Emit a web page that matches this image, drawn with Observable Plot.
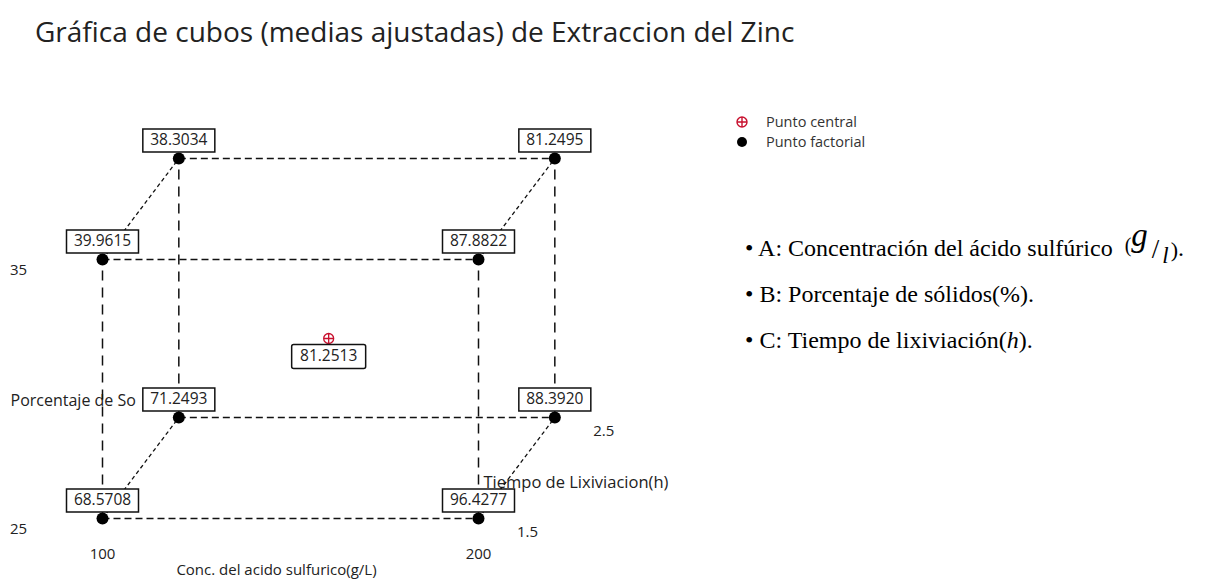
<!DOCTYPE html>
<html>
<head>
<meta charset="utf-8">
<script src="https://cdn.jsdelivr.net/npm/d3@7"></script>
<script src="https://cdn.jsdelivr.net/npm/@observablehq/plot@0.6"></script>
<style>
  html, body { margin: 0; padding: 0; background: #fff; }
  #page { position: relative; width: 1228px; height: 579px; overflow: hidden; font-family: "Open Sans", sans-serif; }
  #title { height: 60px; box-sizing: border-box; padding: 12px 0 0 35px; font-size: 28px; line-height: 38px; color: #222; white-space: nowrap; }
  .legrow { position: absolute; left: 735px; height: 19px; font-size: 14.5px; line-height: 19px; color: #333; white-space: nowrap; }
  .legrow svg { position: absolute; left: 0; top: 3px; }
  .legrow span { position: absolute; left: 31px; top: 0; }
  .note { position: absolute; left: 745px; font-family: "Liberation Serif", "Times New Roman", serif; font-size: 24px; color: #000; line-height: 28px; white-space: nowrap; }
</style>
</head>
<body>
<div id="page">
  <div id="title">Gráfica de cubos (medias ajustadas) de Extraccion del Zinc</div>
  <div id="chart"></div>
  <div id="legend"></div>
  <div class="note" style="top:231px">• A: Concentración del ácido sulfúrico <span style="font-size:20px;position:relative;top:-4px;margin-left:6px">(</span><i style="font-size:33px;position:relative;top:-10px;margin-right:4px">g</i><span style="font-size:27px;position:relative;top:2px;margin-right:3px">/</span><i style="font-size:23px;position:relative;top:7px;margin-right:2px">l</i><span style="font-size:22px;position:relative;top:1px">)</span>.</div>
  <div class="note" style="top:280px">• B: Porcentaje de sólidos(%).</div>
  <div class="note" style="top:326px">• C: Tiempo de lixiviación(<i>h</i>).</div>
</div>
<script>
// ---- data ----
const factorA = [100, 200, 100, 200, 100, 200, 100, 200];   // Conc. ácido sulfúrico (g/L)
const factorB = [25, 25, 35, 35, 25, 25, 35, 35];           // Porcentaje de sólidos
const factorC = [1.5, 1.5, 1.5, 1.5, 2.5, 2.5, 2.5, 2.5];   // Tiempo de lixiviación (h)
const fittedMeans = [68.5708, 96.4277, 39.9615, 87.8822, 71.2493, 88.3920, 38.3034, 81.2495];
const centerA = [150], centerB = [30], centerC = [2], centerMean = [81.2513];
const ticksA = [100, 200];
const ticksB = [25, 35];
const ticksC = [1.5, 2.5];
const labelA = "Conc. del acido sulfurico(g/L)";
const labelB = "Porcentaje de So";
const labelC = "Tiempo de Lixiviacion(h)";
const legendItems = ["Punto central", "Punto factorial"];

// ---- oblique projection of the third factor (C) ----
const DEPTH_A = 20.3, DEPTH_B = 3.9;
const px = (a, c) => a + (c - 1.5) * DEPTH_A;
const py = (b, c) => b + (c - 1.5) * DEPTH_B;

const corners = factorA.map((a, i) => ({a, b: factorB[i], c: factorC[i], m: fittedMeans[i],
  x: px(a, factorC[i]), y: py(factorB[i], factorC[i])}));
const center = centerA.map((a, i) => ({a, b: centerB[i], c: centerC[i], m: centerMean[i],
  x: px(a, centerC[i]), y: py(centerB[i], centerC[i])}));

const edges = [];
for (let i = 0; i < corners.length; i++) for (let j = i + 1; j < corners.length; j++) {
  const p = corners[i], q = corners[j];
  const d = (p.a !== q.a) + (p.b !== q.b) + (p.c !== q.c);
  if (d === 1) edges.push({x1: p.x, y1: p.y, x2: q.x, y2: q.y,
    dir: p.a !== q.a ? "A" : p.b !== q.b ? "B" : "C"});
}

const boxSymbol = (w, h, rr) => ({draw(ctx) {
  const x0 = -w / 2, y0 = -h / 2;
  ctx.moveTo(x0 + rr, y0); ctx.lineTo(x0 + w - rr, y0);
  if (rr) ctx.arcTo(x0 + w, y0, x0 + w, y0 + rr, rr);
  ctx.lineTo(x0 + w, y0 + h - rr);
  if (rr) ctx.arcTo(x0 + w, y0 + h, x0 + w - rr, y0 + h, rr);
  ctx.lineTo(x0 + rr, y0 + h);
  if (rr) ctx.arcTo(x0, y0 + h, x0, y0 + h - rr, rr);
  ctx.lineTo(x0, y0 + rr);
  if (rr) ctx.arcTo(x0, y0, x0 + rr, y0, rr);
  ctx.closePath();
}});
const crossCircle = {draw(ctx, size) {
  const r = Math.sqrt(size / Math.PI);
  ctx.moveTo(r, 0); ctx.arc(0, 0, r, 0, 2 * Math.PI);
  ctx.moveTo(-r, 0); ctx.lineTo(r, 0);
  ctx.moveTo(0, -r); ctx.lineTo(0, r);
}};

const fmt = d3.format(".4f");
const font = {fontFamily: "Open Sans, sans-serif", fill: "#222"};
const dashes = {A: "7,4", B: "10,7", C: "4,3"};

const edgeMarks = ["A", "B", "C"].map(dir => Plot.link(edges.filter(e => e.dir === dir), {
  x1: "x1", y1: "y1", x2: "x2", y2: "y2", stroke: "#111",
  strokeWidth: dir === "C" ? 1.3 : 1.5,
  strokeDasharray: dashes[dir]
}));

const chart = Plot.plot({
  width: 1228, height: 519,
  x: {domain: [100, 200], range: [102, 478], axis: null},
  y: {domain: [25, 35], range: [458, 199], axis: null},
  style: {background: "transparent", overflow: "visible"},
  marks: [
    Plot.text([labelB], {x: () => 100, y: () => 30, text: d => d, textAnchor: "start", dx: -92, dy: 12, fontSize: 16, ...font}),
    Plot.text([labelC], {x: () => 200, y: () => 25, text: d => d, textAnchor: "start", dx: 5, dy: -36, fontSize: 16.5, ...font}),
    Plot.text([labelA], {x: () => 150, y: () => 25, text: d => d, dx: -14, dy: 52, fontSize: 15, ...font}),
    Plot.text(ticksA, {x: d => d, y: () => 25, text: d => String(d), dy: 36, fontSize: 15, ...font}),
    Plot.text(ticksB, {x: () => 100, y: d => d, text: d => String(d), dx: -84, dy: 11, fontSize: 15, ...font}),
    Plot.text(ticksC, {x: d => px(200, d), y: d => py(25, d), text: d => d.toFixed(1), dx: 49, dy: 14, fontSize: 15, ...font}),
    ...edgeMarks,
    Plot.dot(corners, {x: "x", y: "y", r: 6, fill: "#000", stroke: "none"}),
    Plot.dot(center, {x: "x", y: "y", r: 5, symbol: crossCircle, fill: "none", stroke: "#c8102e", strokeWidth: 1.3}),
    Plot.dot(corners, {x: "x", y: "y", symbol: boxSymbol(72, 23, 0), r: 5, fill: "#fff", stroke: "#111", strokeWidth: 1.5, dy: -18}),
    Plot.dot(center, {x: "x", y: "y", symbol: boxSymbol(74, 24, 2), r: 5, fill: "#fff", stroke: "#111", strokeWidth: 1.5, dy: 18}),
    Plot.text(corners, {x: "x", y: "y", text: d => fmt(d.m), dy: -18, fontSize: 15.5, ...font}),
    Plot.text(center, {x: "x", y: "y", text: d => fmt(d.m), dy: 18, fontSize: 15.5, ...font})
  ]
});
document.getElementById("chart").appendChild(chart);

// legend
const legSyms = [
  `<svg width="14" height="14" viewBox="-7 -7 14 14"><circle r="5" fill="none" stroke="#c8102e" stroke-width="1.4"/><path d="M-5,0H5M0,-5V5" stroke="#c8102e" stroke-width="1.4"/></svg>`,
  `<svg width="14" height="14" viewBox="-7 -7 14 14"><circle r="5" fill="#000"/></svg>`
];
const legTops = [112, 132];
document.getElementById("legend").innerHTML = legendItems.map((t, i) =>
  `<div class="legrow" style="top:${legTops[i]}px">${legSyms[i]}<span>${t}</span></div>`).join("");
</script>
</body>
</html>
